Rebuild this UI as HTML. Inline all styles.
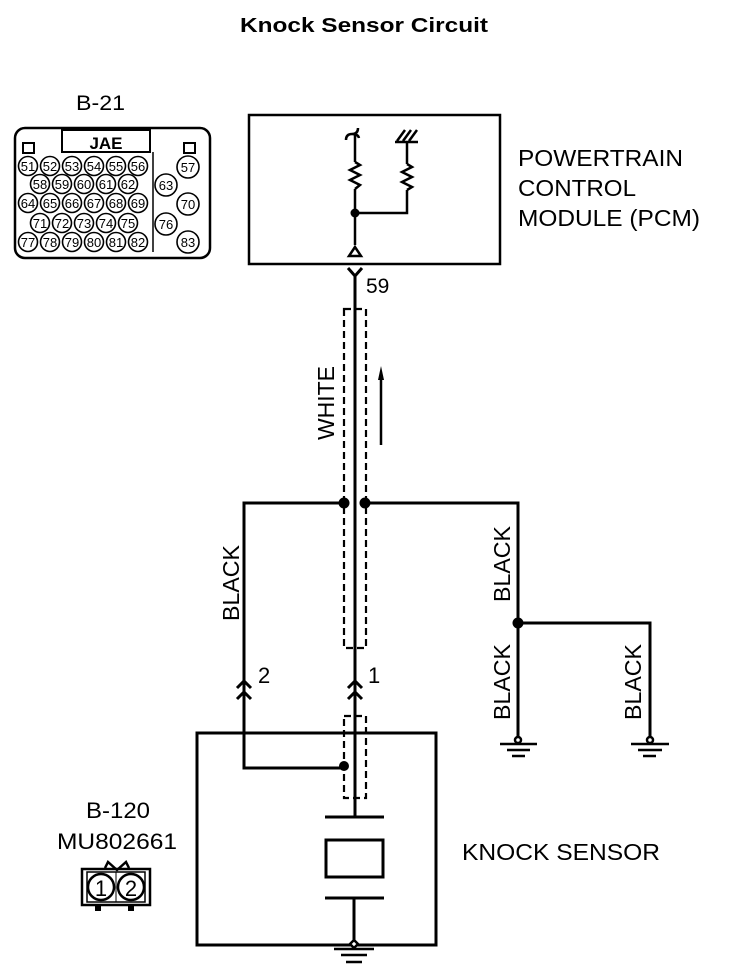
<!DOCTYPE html>
<html><head><meta charset="utf-8"><style>
html,body{margin:0;padding:0;background:#fff;}
svg{display:block;font-family:"Liberation Sans",Arial,sans-serif;}
</style></head><body>
<svg width="736" height="978" viewBox="0 0 736 978" xmlns="http://www.w3.org/2000/svg">
<rect width="736" height="978" fill="#fff"/>
<text x="240" y="32" font-size="20" font-weight="bold" textLength="248" lengthAdjust="spacingAndGlyphs">Knock Sensor Circuit</text>

<!-- B-21 connector -->
<text x="76" y="110" font-size="21" textLength="49" lengthAdjust="spacingAndGlyphs">B-21</text>
<rect x="15" y="128" width="195" height="130" rx="10" fill="none" stroke="#000" stroke-width="2.5"/>
<rect x="62" y="130" width="88" height="22" fill="#fff" stroke="#000" stroke-width="2"/>
<text x="106" y="149" font-size="17" font-weight="bold" text-anchor="middle">JAE</text>
<rect x="23" y="143" width="11" height="10" fill="none" stroke="#000" stroke-width="2"/>
<rect x="184" y="143" width="11" height="10" fill="none" stroke="#000" stroke-width="2"/>
<line x1="153" y1="152" x2="153" y2="252" stroke="#000" stroke-width="1.5"/>
<g font-size="13" text-anchor="middle">
<g fill="#fff" stroke="#000" stroke-width="1.6">
<circle cx="28" cy="166" r="9.5"/><circle cx="50" cy="166" r="9.5"/><circle cx="72" cy="166" r="9.5"/><circle cx="94" cy="166" r="9.5"/><circle cx="116" cy="166" r="9.5"/><circle cx="138" cy="166" r="9.5"/>
<circle cx="40" cy="184" r="9.5"/><circle cx="62" cy="184" r="9.5"/><circle cx="84" cy="184" r="9.5"/><circle cx="106" cy="184" r="9.5"/><circle cx="128" cy="184" r="9.5"/>
<circle cx="28" cy="203" r="9.5"/><circle cx="50" cy="203" r="9.5"/><circle cx="72" cy="203" r="9.5"/><circle cx="94" cy="203" r="9.5"/><circle cx="116" cy="203" r="9.5"/><circle cx="138" cy="203" r="9.5"/>
<circle cx="40" cy="223" r="9.5"/><circle cx="62" cy="223" r="9.5"/><circle cx="84" cy="223" r="9.5"/><circle cx="106" cy="223" r="9.5"/><circle cx="128" cy="223" r="9.5"/>
<circle cx="28" cy="242" r="9.5"/><circle cx="50" cy="242" r="9.5"/><circle cx="72" cy="242" r="9.5"/><circle cx="94" cy="242" r="9.5"/><circle cx="116" cy="242" r="9.5"/><circle cx="138" cy="242" r="9.5"/>
<circle cx="188" cy="167" r="11"/><circle cx="166" cy="185" r="11"/><circle cx="188" cy="204" r="11"/><circle cx="166" cy="224" r="11"/><circle cx="188" cy="242" r="11"/>
</g>
<text x="28" y="171">51</text><text x="50" y="171">52</text><text x="72" y="171">53</text><text x="94" y="171">54</text><text x="116" y="171">55</text><text x="138" y="171">56</text>
<text x="40" y="189">58</text><text x="62" y="189">59</text><text x="84" y="189">60</text><text x="106" y="189">61</text><text x="128" y="189">62</text>
<text x="28" y="208">64</text><text x="50" y="208">65</text><text x="72" y="208">66</text><text x="94" y="208">67</text><text x="116" y="208">68</text><text x="138" y="208">69</text>
<text x="40" y="228">71</text><text x="62" y="228">72</text><text x="84" y="228">73</text><text x="106" y="228">74</text><text x="128" y="228">75</text>
<text x="28" y="247">77</text><text x="50" y="247">78</text><text x="72" y="247">79</text><text x="94" y="247">80</text><text x="116" y="247">81</text><text x="138" y="247">82</text>
<text x="188" y="172">57</text><text x="166" y="190">63</text><text x="188" y="209">70</text><text x="166" y="229">76</text><text x="188" y="247">83</text>
</g>

<!-- PCM -->
<rect x="249" y="115" width="251" height="149" fill="none" stroke="#000" stroke-width="2.5"/>
<g font-size="23">
<text x="518" y="166" textLength="165" lengthAdjust="spacingAndGlyphs">POWERTRAIN</text>
<text x="518" y="196" textLength="118" lengthAdjust="spacingAndGlyphs">CONTROL</text>
<text x="518" y="226" textLength="182" lengthAdjust="spacingAndGlyphs">MODULE (PCM)</text>
</g>
<g stroke="#000" stroke-width="2.5" fill="none">
<path d="M346 140 q0 -6 6 -6 q6 0 6 -6 M352 134 q6 0 7 4"/>
<line x1="355" y1="134" x2="355" y2="162"/>
<polyline points="355,162 360,165 350,170 360,175 350,180 360,185 355,189"/>
<line x1="355" y1="189" x2="355" y2="245"/>
<line x1="395" y1="142" x2="418" y2="142"/>
<line x1="397" y1="141" x2="405" y2="130"/><line x1="403" y1="141" x2="411" y2="130"/><line x1="409" y1="141" x2="417" y2="130"/>
<line x1="407" y1="142" x2="407" y2="164"/>
<polyline points="407,164 412,167 402,172 412,177 402,182 412,187 407,190"/>
<polyline points="407,190 407,213 355,213"/>
<polygon points="355,247 349,256 361,256"/>
</g>
<circle cx="355" cy="213" r="4.5" fill="#000"/>

<!-- 59 connector -->
<g stroke="#000" stroke-width="3" fill="none">
<polyline points="348,268 355,276 362,268"/>
<line x1="355" y1="276" x2="355" y2="680"/>
</g>
<text x="366" y="293" font-size="21">59</text>

<!-- upper shield -->
<rect x="344" y="309" width="22" height="339" fill="none" stroke="#000" stroke-width="2.2" stroke-dasharray="7,4"/>
<text transform="translate(334,440) rotate(-90)" font-size="23" textLength="74" lengthAdjust="spacingAndGlyphs">WHITE</text>
<line x1="381" y1="445" x2="381" y2="378" stroke="#000" stroke-width="2.5"/>
<polygon points="381,366 378,380 384,380" fill="#000"/>

<!-- wires -->
<g stroke="#000" stroke-width="3" fill="none">
<polyline points="344,503 244,503 244,768 344,768"/>
<polyline points="365,503 518,503 518,740"/>
<polyline points="518,623 650,623 650,740"/>
</g>
<circle cx="344" cy="503" r="5.5" fill="#000"/>
<circle cx="365" cy="503" r="5.5" fill="#000"/>
<circle cx="518" cy="623" r="5.5" fill="#000"/>
<g font-size="23">
<text transform="translate(239,621) rotate(-90)" textLength="76" lengthAdjust="spacingAndGlyphs">BLACK</text>
<text transform="translate(510,602) rotate(-90)" textLength="76" lengthAdjust="spacingAndGlyphs">BLACK</text>
<text transform="translate(510,720) rotate(-90)" textLength="76" lengthAdjust="spacingAndGlyphs">BLACK</text>
<text transform="translate(641,720) rotate(-90)" textLength="76" lengthAdjust="spacingAndGlyphs">BLACK</text>
</g>
<!-- grounds right -->
<g stroke="#000" stroke-width="2.5" fill="#fff">
<circle cx="518" cy="740" r="3"/>
<line x1="500" y1="744" x2="537" y2="744"/><line x1="507" y1="750" x2="530" y2="750"/><line x1="512" y1="756" x2="525" y2="756"/>
<circle cx="650" cy="740" r="3"/>
<line x1="631" y1="744" x2="669" y2="744"/><line x1="638" y1="750" x2="662" y2="750"/><line x1="643" y1="756" x2="656" y2="756"/>
</g>

<!-- connectors 1 & 2 -->
<g stroke="#000" stroke-width="3" fill="none">
<line x1="355" y1="680" x2="355" y2="817"/>
<polyline points="348,688 355,681 362,688"/><polyline points="348,699 355,692 362,699"/>
<polyline points="237,688 244,681 251,688"/><polyline points="237,699 244,692 251,699"/>
</g>
<text x="258" y="683" font-size="22">2</text>
<text x="368" y="683" font-size="22">1</text>

<!-- knock sensor -->
<rect x="197" y="733" width="239" height="212" fill="none" stroke="#000" stroke-width="3"/>
<rect x="344" y="716" width="22" height="82" fill="none" stroke="#000" stroke-width="2.2" stroke-dasharray="7,4"/>
<circle cx="344" cy="766" r="5" fill="#000"/>
<g stroke="#000" stroke-width="3" fill="none">
<line x1="325" y1="817" x2="384" y2="817"/>
<rect x="326" y="840" width="57" height="37"/>
<line x1="325" y1="898" x2="384" y2="898"/>
<line x1="354" y1="898" x2="354" y2="944"/>
</g>
<g stroke="#000" stroke-width="2.5" fill="#fff">
<path d="M354 940 l4 4 l-4 4 l-4 -4z"/>
<line x1="334" y1="949" x2="374" y2="949"/><line x1="341" y1="955" x2="367" y2="955"/><line x1="346" y1="962" x2="362" y2="962"/>
</g>
<text x="462" y="860" font-size="23" textLength="198" lengthAdjust="spacingAndGlyphs">KNOCK SENSOR</text>

<!-- B-120 -->
<g font-size="22" text-anchor="middle">
<text x="118" y="818" textLength="64" lengthAdjust="spacingAndGlyphs">B-120</text>
<text x="117" y="849" textLength="120" lengthAdjust="spacingAndGlyphs">MU802661</text>
</g>
<g stroke="#000" stroke-width="2.5" fill="none">
<polyline points="105,868 108,862 117,870 126,862 129,868"/>
<rect x="82" y="869" width="68" height="36"/>
<rect x="87" y="872" width="58" height="30" stroke-width="1.5"/>
<line x1="116" y1="872" x2="116" y2="902" stroke-width="1"/>
<circle cx="101" cy="887" r="13"/><circle cx="131" cy="887" r="13"/>
</g>
<rect x="95" y="905" width="6" height="6" fill="#000"/><rect x="128" y="905" width="6" height="6" fill="#000"/>
<text x="101" y="896" font-size="22" text-anchor="middle">1</text>
<text x="131" y="896" font-size="22" text-anchor="middle">2</text>
</svg>
</body></html>
